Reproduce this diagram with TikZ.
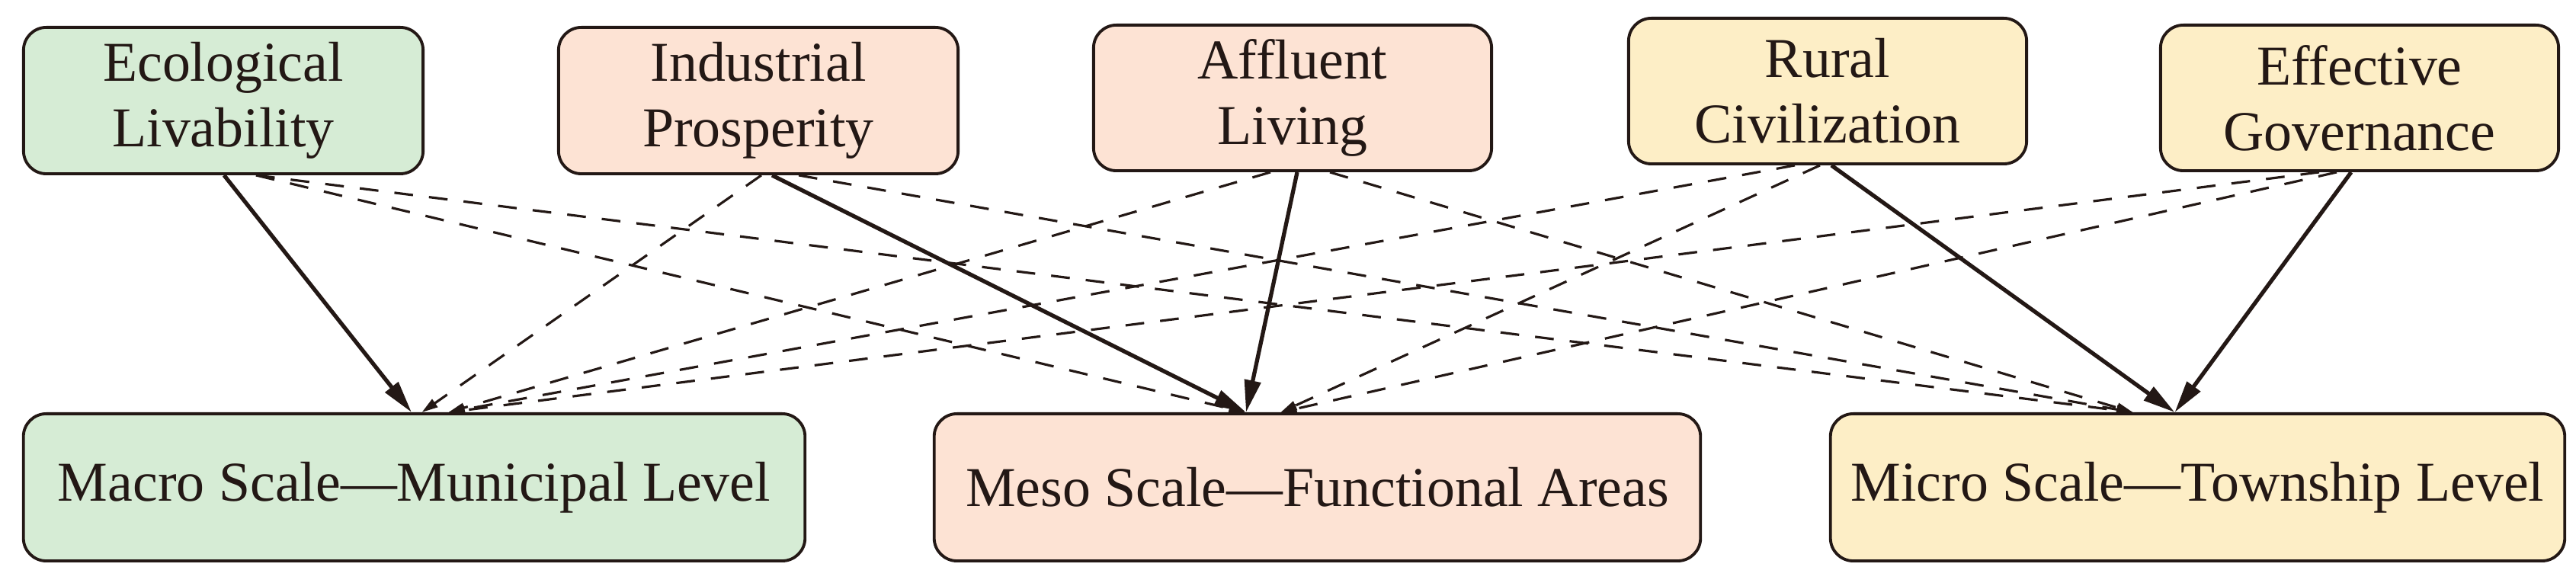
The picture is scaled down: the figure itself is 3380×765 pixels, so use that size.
\documentclass[tikz,border=0pt]{standalone}
\usepackage{fontspec}
\setmainfont{Liberation Serif}
\usetikzlibrary{arrows.meta}
\definecolor{ecogreen}{HTML}{D6ECD5}
\definecolor{peach}{HTML}{FDE3D4}
\definecolor{cream}{HTML}{FDEEC6}
\definecolor{ink}{HTML}{231815}
\begin{document}
\begin{tikzpicture}[x=0.01cm,y=-0.01cm,
  box/.style={draw=ink, line width=1.1pt, rounded corners=0.3cm, inner sep=0pt, align=center,
    font=\fontsize{21}{24.5}\selectfont, text=ink},
  topbox/.style={box, minimum width=5.22cm, minimum height=1.91cm},
  botbox/.style={box, minimum height=1.93cm},
  solidarrow/.style={draw=ink, line width=1.5pt, -{Triangle[length=12pt,width=6pt]}},
  dasharrow/.style={draw=ink, line width=0.9pt, dash pattern=on 7pt off 6pt, -{Triangle[length=6pt,width=3.5pt]}},
]
\useasboundingbox (0,0) rectangle (3380,765);

\node[topbox, fill=ecogreen, minimum width=5.24cm, minimum height=1.92cm] (eco) at (293,132) {Ecological\\Livability};
\node[topbox, fill=peach, minimum width=5.24cm, minimum height=1.92cm] (ind) at (995,132) {Industrial\\Prosperity};
\node[topbox, fill=peach] (aff) at (1696,128.5) {Affluent\\Living};
\node[topbox, fill=cream] (rur) at (2398,119.5) {Rural\\Civilization};
\node[topbox, fill=cream] (eff) at (3096,128.5) {Effective\\Governance};

\node[botbox, fill=ecogreen, minimum width=10.25cm] (macro) at (543.5,639.5) {Macro Scale—Municipal Level};
\node[botbox, fill=peach, minimum width=10.05cm] (meso) at (1728.5,639.5) {Meso Scale—Functional Areas};
\node[botbox, fill=cream, minimum width=9.63cm] (micro) at (2883.5,639.5) {Micro Scale—Township Level};

% dashed connectors
\draw[dasharrow] ([xshift=0.43cm]eco.south) -- ([xshift=-0.95cm]meso.north);
\draw[dasharrow] ([xshift=0.43cm]eco.south) -- ([xshift=-0.85cm]micro.north);
\draw[dasharrow] ([xshift=0.04cm]ind.south) -- ([xshift=0.10cm]macro.north);
\draw[dasharrow] ([xshift=0.53cm]ind.south) -- ([xshift=-0.85cm]micro.north);
\draw[dasharrow] ([xshift=-0.29cm]aff.south) -- ([xshift=0.45cm]macro.north);
\draw[dasharrow] ([xshift=0.49cm]aff.south) -- ([xshift=-0.85cm]micro.north);
\draw[dasharrow] ([xshift=-0.43cm]rur.south) -- ([xshift=0.45cm]macro.north);
\draw[dasharrow] ([xshift=-0.10cm]rur.south) -- ([xshift=-0.48cm]meso.north);
\draw[dasharrow] ([xshift=-0.53cm]eff.south) -- ([xshift=0.45cm]macro.north);
\draw[dasharrow] ([xshift=-0.30cm]eff.south) -- ([xshift=-0.48cm]meso.north);

% solid connectors
\draw[solidarrow] ([xshift=0.01cm]eco.south) -- ([xshift=-0.035cm]macro.north);
\draw[solidarrow] ([xshift=0.18cm]ind.south) -- ([xshift=-0.935cm]meso.north);
\draw[solidarrow] ([xshift=0.06cm]aff.south) -- ([xshift=-0.935cm]meso.north);
\draw[solidarrow] ([xshift=0.05cm]rur.south) -- ([xshift=-0.30cm]micro.north);
\draw[solidarrow] ([xshift=-0.11cm]eff.south) -- ([xshift=-0.30cm]micro.north);
\end{tikzpicture}
\end{document}
